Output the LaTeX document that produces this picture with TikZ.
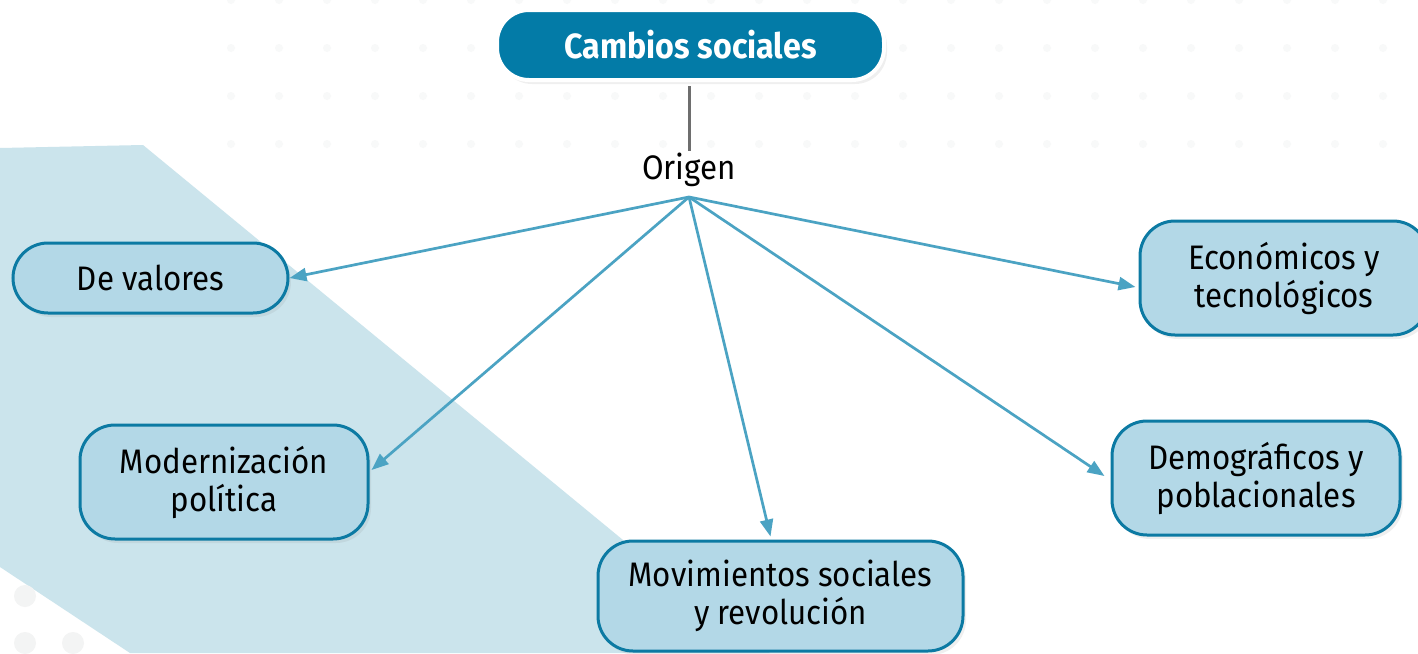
\documentclass[tikz,border=0pt]{standalone}
\usepackage{fontspec}
\setmainfont{Fira Sans}[FakeStretch=0.92]
\usetikzlibrary{arrows.meta,shadows,calc}
\definecolor{bgblue}{HTML}{CBE4EC}
\definecolor{nodefill}{HTML}{B3D8E7}
\definecolor{nodeedge}{HTML}{0C7AA3}
\definecolor{topfill}{HTML}{037BA7}
\definecolor{arrowc}{HTML}{4BA3C3}
\definecolor{grayline}{HTML}{6E6E6E}
\definecolor{dotc}{HTML}{F3F4F4}
\definecolor{dotfaint}{HTML}{F8F9F9}
\tikzset{
  concept/.style={draw=nodeedge, line width=3pt, fill=nodefill, rounded corners=35pt,
    align=center, inner sep=0pt, font=\fontsize{34}{38}\selectfont, text=black,
    drop shadow={opacity=0.12, shadow xshift=3pt, shadow yshift=-4pt}},
  titlebox/.style={draw=white, line width=4pt, fill=topfill, rounded corners=32pt,
    inner sep=0pt, font=\fontsize{35}{38}\selectfont\bfseries, text=white,
    drop shadow={opacity=0.12, shadow xshift=3pt, shadow yshift=-4pt}},
  linker/.style={font=\fontsize{34}{38}\selectfont, text=black, inner sep=2pt},
  arr/.style={draw=arrowc, line width=2.7pt, -{Triangle[length=17pt,width=13pt]}},
  dotdeco/.style={fill=dotc, draw=none}
}
\begin{document}
\begin{tikzpicture}[x=1pt,y=-1pt]
\useasboundingbox (0,0) rectangle (1418,653);
\clip (0,0) rectangle (1418,653);
\fill[white] (0,0) rectangle (1418,653);
% faint dot grid
\foreach \yy in {0,48,96,144}{
  \foreach \xx in {231,279,...,1400}{
    \fill[dotfaint] (\xx,\yy) circle (4);
  }
}
% background polygon
\fill[bgblue] (0,148) -- (143,145) -- (623,540) -- (770,653) -- (130,653) -- (0,567) -- cycle;
% bottom-left dots
\fill[dotdeco] (25,596) circle (11);
\fill[dotdeco] (25,643) circle (11);
\fill[dotdeco] (73,643) circle (11);
% nodes
\node[titlebox, minimum width=387pt, minimum height=70pt] (top) at (690.5,45) {Cambios sociales};
\node[linker] (origen) at (689,170) {Origen};
\coordinate (o) at (689,197);
\node[concept, minimum width=275pt, minimum height=70pt] (dv) at (150.5,278) {De valores};
\node[concept, minimum width=288pt, minimum height=114pt] (mp) at (224,482) {Modernización\\política};
\node[concept, minimum width=365pt, minimum height=110pt] (mm) at (780.5,596) {Movimientos sociales\\y revolución};
\node[concept, minimum width=288pt, minimum height=114pt] (dp) at (1256,478) {Demográficos y\\poblacionales};
\node[concept, minimum width=288pt, minimum height=114pt] (et) at (1284,278) {Económicos y\\tecnológicos};
% connectors
\draw[grayline, line width=3pt] ($(top.south -| origen.north)+(0,4)$) -- (origen.north);
\draw[arr] (o) -- (dv.east);
\draw[arr] (o) -- ($(mp.east)+(2,-12)$);
\draw[arr] (o) -- ($(mm.north)+(-10,-3)$);
\draw[arr] (o) -- ($(dp.west)+(-6,-2)$);
\draw[arr] (o) -- ($(et.west)+(-3,9)$);
\end{tikzpicture}
\end{document}
